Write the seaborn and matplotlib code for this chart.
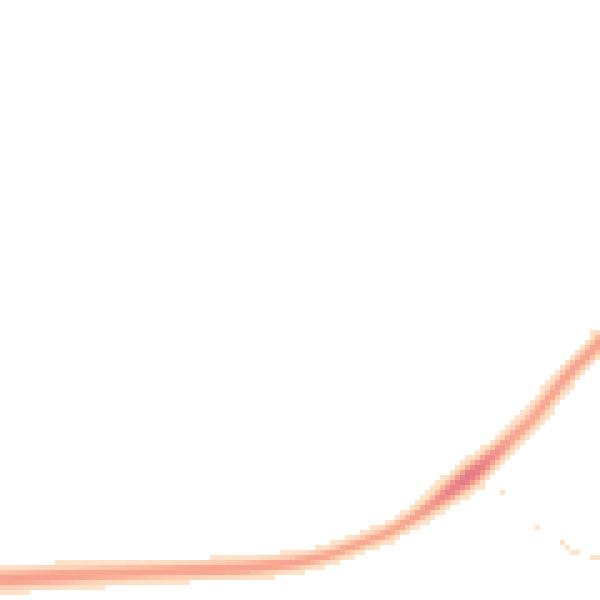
import numpy as np
import pandas as pd
import seaborn as sns
import matplotlib
matplotlib.use("Agg")
import matplotlib.pyplot as plt
from matplotlib.colors import LinearSegmentedColormap

# Ridge of the density (data units = pixels, y upward)
curve_x = [0, 50, 100, 150, 200, 250, 300, 330, 350, 370, 390, 410, 430, 450, 470, 490, 510, 530, 550, 570, 590, 605]
curve_y = [20, 23, 26, 28, 30, 32, 38, 45, 53, 60, 68, 80, 93, 109, 124, 141, 160, 178, 203, 228, 247, 264]
band_half = [12, 12, 11, 10, 10, 10, 9, 8, 8, 8, 8, 8, 9, 12, 14, 11, 9, 9, 9, 9, 9, 9]
band_level = [0.6, 0.6, 0.55, 0.55, 0.6, 0.6, 0.6, 0.55, 0.55, 0.55, 0.55, 0.6, 0.7, 0.9, 1.0, 0.85, 0.6, 0.55, 0.55, 0.6, 0.6, 0.6]

# Isolated observations
stray_x = [537, 560, 565, 572, 577, 592, 598, 500]
stray_y = [74, 57, 52, 47, 47, 41, 41, 106]
stray_w = [0.3, 0.3, 0.3, 0.3, 0.3, 0.3, 0.3, 0.3]

# Build weighted observations along the ridge
xs = np.arange(0, 605, 0.25)
ys = np.interp(xs, curve_x, curve_y)
hw = np.interp(xs, curve_x, band_half)
lv = np.interp(xs, curve_x, band_level)
dx = np.gradient(xs)
dy = np.gradient(ys)
ds = np.hypot(dx, dy)
nx, ny = -dy / ds, dx / ds

px, py, pw = [], [], []
for d in np.arange(-16, 16.01, 0.5):
    r = d / hw
    w = np.clip(1 - r ** 2, 0, None) ** 1.5 * lv * ds
    keep = w > 0
    px.append((xs + d * nx)[keep])
    py.append((ys + d * ny)[keep])
    pw.append(w[keep])
px = np.concatenate(px + [np.array(stray_x, float)])
py = np.concatenate(py + [np.array(stray_y, float)])
pw = np.concatenate(pw + [np.array(stray_w, float)])
df = pd.DataFrame({"x": px, "y": py, "w": pw})

cmap = LinearSegmentedColormap.from_list(
    "peach", ["#fee3c9", "#fdcdb2", "#f9ab93", "#f2948d", "#e37a84"])

fig = plt.figure(figsize=(6, 6), dpi=100)
ax = fig.add_axes([0, 0, 1, 1])
sns.histplot(data=df, x="x", y="y", weights="w", bins=120,
             binrange=((0, 600), (0, 600)), cmap=cmap, ax=ax)
ax.set_xlim(0, 600)
ax.set_ylim(0, 600)
ax.axis("off")
fig.savefig("out.png", dpi=100)
